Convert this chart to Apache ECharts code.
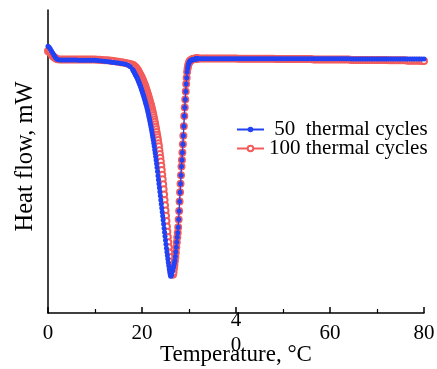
<!DOCTYPE html>
<html>
<head>
<meta charset="utf-8">
<script src="https://cdn.jsdelivr.net/npm/echarts@6/dist/echarts.min.js"></script>
<style>
html, body { margin: 0; padding: 0; background: #fff; }
#chart { width: 437px; height: 369px; }
</style>
</head>
<body>
<div id="chart"></div>
<script>
// temperature, °C (denser sampling round the melting peak)
const temps = [
  0, 0.25, 0.5, 0.75, 1, 1.25, 1.5, 1.75, 2,
  2.5, 3, 3.5, 4, 4.5, 5, 5.5, 6, 6.5, 7, 7.5, 8, 8.5, 9, 9.5, 10,
  10.5, 11, 11.5, 12, 12.5, 13, 13.5, 14, 14.5, 15, 15.5, 16, 16.5, 17, 17.5, 18,
  18.1, 18.2, 18.3, 18.4, 18.5, 18.6, 18.7, 18.8, 18.9, 19,
  19.1, 19.2, 19.3, 19.4, 19.5, 19.6, 19.7, 19.8, 19.9, 20,
  20.1, 20.2, 20.3, 20.4, 20.5, 20.6, 20.7, 20.8, 20.9, 21,
  21.1, 21.2, 21.3, 21.4, 21.5, 21.6, 21.7, 21.8, 21.9, 22,
  22.1, 22.2, 22.3, 22.4, 22.5, 22.6, 22.7, 22.8, 22.9, 23,
  23.1, 23.2, 23.3, 23.4, 23.5, 23.6, 23.7, 23.8, 23.9, 24,
  24.1, 24.2, 24.3, 24.4, 24.5, 24.6, 24.7, 24.8, 24.9, 25,
  25.1, 25.2, 25.3, 25.4, 25.5, 25.6, 25.7, 25.8, 25.9, 26,
  26.1, 26.2, 26.3, 26.4, 26.5, 26.6, 26.7, 26.8, 26.9, 27,
  27.1, 27.2, 27.3, 27.4, 27.5, 27.6, 27.7, 27.8, 27.9, 28,
  28.1, 28.2, 28.3, 28.4, 28.5, 28.6, 28.7, 28.8, 28.9, 29,
  29.1, 29.2, 29.3, 29.4, 29.5, 29.6, 29.7, 29.8, 29.9, 30,
  30.1, 30.2, 30.3, 30.4, 30.5, 30.6, 30.7, 30.8, 30.9, 31,
  31.1, 31.2, 31.3, 31.4, 31.5, 31.6, 31.7, 31.8, 31.9, 32,
  32.5, 33, 33.5, 34, 34.5, 35, 35.5, 36, 36.5, 37, 37.5, 38, 38.5, 39, 39.5, 40,
  40.5, 41, 41.5, 42, 42.5, 43, 43.5, 44, 44.5, 45, 45.5, 46, 46.5, 47, 47.5, 48,
  48.5, 49, 49.5, 50, 50.5, 51, 51.5, 52, 52.5, 53, 53.5, 54, 54.5, 55, 55.5, 56,
  56.5, 57, 57.5, 58, 58.5, 59, 59.5, 60, 60.5, 61, 61.5, 62, 62.5, 63, 63.5, 64,
  64.5, 65, 65.5, 66, 66.5, 67, 67.5, 68, 68.5, 69, 69.5, 70, 70.5, 71, 71.5, 72,
  72.5, 73, 73.5, 74, 74.5, 75, 75.5, 76, 76.5, 77, 77.5, 78, 78.5, 79, 79.5, 80
];

// heat flow, mW — 50 thermal cycles
const flow50 = [
  0.28, 0.26, 0.23, 0.19, 0.15, 0.11, 0.07, 0.04, 0.02,
  0.01, 0.01, 0.01, 0.01, 0.01, 0.01, 0.01, 0.01, 0.005, 0.005, 0.005, 0.005, 0.005, 0.005, 0.005, 0.003,
  0, -0.005, -0.01, -0.015, -0.02, -0.026, -0.033, -0.04, -0.045, -0.05, -0.058, -0.066, -0.075, -0.093, -0.125, -0.178,
  -0.195, -0.21, -0.228, -0.245, -0.262, -0.28, -0.295, -0.31, -0.33, -0.35,
  -0.372, -0.395, -0.42, -0.445, -0.467, -0.49, -0.517, -0.545, -0.572, -0.6,
  -0.63, -0.66, -0.69, -0.72, -0.75, -0.78, -0.815, -0.85, -0.882, -0.915,
  -0.955, -0.995, -1.037, -1.08, -1.125, -1.17, -1.215, -1.26, -1.31, -1.36,
  -1.415, -1.47, -1.522, -1.575, -1.637, -1.7, -1.765, -1.83, -1.9, -1.97,
  -2.045, -2.12, -2.2, -2.28, -2.36, -2.44, -2.52, -2.6, -2.68, -2.76,
  -2.84, -2.92, -3.0, -3.08, -3.16, -3.24, -3.32, -3.4, -3.48, -3.56,
  -3.64, -3.72, -3.79, -3.86, -3.93, -4.0, -4.065, -4.13, -4.19, -4.24,
  -4.27, -4.26, -4.23, -4.19, -4.16, -4.13, -4.09, -4.05, -4.01, -3.96,
  -3.88, -3.79, -3.7, -3.6, -3.5, -3.41, -3.3, -3.15, -2.98, -2.79,
  -2.61, -2.44, -2.27, -2.1, -1.97, -1.82, -1.66, -1.49, -1.3, -1.1,
  -0.93, -0.77, -0.615, -0.465, -0.34, -0.23, -0.16, -0.11, -0.07, -0.045,
  -0.025, -0.01, -0.004, 0, 0.006, 0.012, 0.015, 0.018, 0.02, 0.022,
  0.024, 0.026, 0.028, 0.03, 0.031, 0.033, 0.034, 0.035, 0.035, 0.035,
  0.035, 0.035, 0.035, 0.035, 0.035, 0.035, 0.035, 0.035, 0.035, 0.035, 0.035, 0.035, 0.035, 0.035, 0.035, 0.035,
  0.035, 0.035, 0.035, 0.035, 0.035, 0.035, 0.035, 0.035, 0.035, 0.035, 0.035, 0.035, 0.035, 0.035, 0.035, 0.035,
  0.035, 0.035, 0.035, 0.035, 0.035, 0.035, 0.035, 0.035, 0.035, 0.035, 0.035, 0.035, 0.035, 0.035, 0.035, 0.035,
  0.033, 0.033, 0.033, 0.033, 0.033, 0.033, 0.033, 0.033, 0.033, 0.033, 0.033, 0.033, 0.033, 0.033, 0.033, 0.033,
  0.03, 0.03, 0.03, 0.03, 0.03, 0.03, 0.03, 0.03, 0.03, 0.03, 0.03, 0.03, 0.03, 0.03, 0.03, 0.03,
  0.03, 0.03, 0.03, 0.03, 0.03, 0.03, 0.03, 0.03, 0.03, 0.03, 0.03, 0.03, 0.03, 0.03, 0.03, 0.03
];

// heat flow, mW — 100 thermal cycles
const flow100 = [
  0.19, 0.17, 0.15, 0.12, 0.09, 0.07, 0.05, 0.04, 0.025,
  0.02, 0.02, 0.02, 0.02, 0.02, 0.02, 0.02, 0.02, 0.02, 0.02, 0.02, 0.02, 0.02, 0.02, 0.02, 0.018,
  0.015, 0.013, 0.01, 0.007, 0.004, 0, -0.005, -0.012, -0.02, -0.027, -0.035, -0.042, -0.05, -0.06, -0.07, -0.085,
  -0.092, -0.1, -0.11, -0.12, -0.127, -0.135, -0.145, -0.155, -0.166, -0.178,
  -0.195, -0.21, -0.228, -0.245, -0.262, -0.28, -0.295, -0.31, -0.33, -0.35,
  -0.372, -0.395, -0.42, -0.445, -0.467, -0.49, -0.517, -0.545, -0.572, -0.6,
  -0.63, -0.66, -0.69, -0.72, -0.75, -0.78, -0.815, -0.85, -0.882, -0.915,
  -0.955, -0.995, -1.037, -1.08, -1.125, -1.17, -1.215, -1.26, -1.31, -1.36,
  -1.415, -1.47, -1.522, -1.575, -1.637, -1.7, -1.775, -1.85, -1.925, -2.0,
  -2.085, -2.17, -2.26, -2.35, -2.45, -2.55, -2.655, -2.76, -2.865, -2.97,
  -3.075, -3.18, -3.285, -3.39, -3.495, -3.6, -3.7, -3.8, -3.89, -3.98,
  -4.06, -4.13, -4.18, -4.22, -4.24, -4.24, -4.2, -4.12, -4.05, -3.97,
  -3.89, -3.8, -3.7, -3.6, -3.5, -3.41, -3.3, -3.15, -2.98, -2.79,
  -2.61, -2.44, -2.27, -2.1, -1.97, -1.82, -1.66, -1.49, -1.3, -1.1,
  -0.93, -0.77, -0.615, -0.465, -0.34, -0.23, -0.16, -0.11, -0.07, -0.045,
  -0.025, -0.01, -0.002, 0.005, 0.012, 0.018, 0.022, 0.026, 0.03, 0.032,
  0.034, 0.036, 0.037, 0.038, 0.038, 0.038, 0.038, 0.038, 0.038, 0.038,
  0.038, 0.038, 0.038, 0.038, 0.038, 0.038, 0.038, 0.038, 0.038, 0.038, 0.038, 0.038, 0.038, 0.038, 0.038, 0.038,
  0.036, 0.036, 0.036, 0.036, 0.036, 0.036, 0.036, 0.036, 0.036, 0.036, 0.036, 0.036, 0.036, 0.036, 0.036, 0.036,
  0.032, 0.032, 0.032, 0.032, 0.032, 0.032, 0.032, 0.032, 0.032, 0.032, 0.032, 0.032, 0.032, 0.032, 0.032, 0.032,
  0.022, 0.022, 0.022, 0.022, 0.022, 0.022, 0.022, 0.022, 0.022, 0.022, 0.022, 0.022, 0.022, 0.022, 0.022, 0.022,
  0.01, 0.01, 0.01, 0.01, 0.01, 0.01, 0.01, 0.01, 0.01, 0.01, 0.01, 0.01, 0.01, 0.01, 0.01, 0.01,
  0.005, 0.005, 0.005, 0.005, 0.005, 0.005, 0.005, 0.005, -0.005, -0.005, -0.005, -0.005, -0.005, -0.005, -0.01, -0.01
];

const seriesNames = [' 50  thermal cycles', '100 thermal cycles'];
const xLabels = [0, 20, 40, 60, 80];

const FONT = 'Liberation Serif';
const BLUE = '#2142f5';
const RED = '#f45c5c';

const chart = echarts.init(document.getElementById('chart'));

const option = {
  animation: false,
  backgroundColor: '#fff',
  grid: { left: 48, right: 13, top: 10, bottom: 56, outerBoundsMode: 'none' },
  legend: {
    orient: 'vertical',
    left: 231,
    top: 114,
    itemWidth: 27,
    itemHeight: 7,
    itemGap: -2,
    data: seriesNames,
    textStyle: { fontFamily: FONT, fontSize: 21, color: '#000' }
  },
  xAxis: {
    type: 'value',
    min: 0,
    max: 80,
    interval: 20,
    name: 'Temperature, °C',
    nameLocation: 'middle',
    nameGap: 42,
    nameMoveOverlap: false,
    nameTextStyle: { fontFamily: FONT, fontSize: 23, color: '#000', verticalAlign: 'middle' },
    axisLine: { onZero: false, lineStyle: { color: '#000', width: 1.5 } },
    axisTick: { inside: true, length: 6, lineStyle: { color: '#000', width: 1.5 } },
    minorTick: { show: true, splitNumber: 2, length: 4, lineStyle: { color: '#000', width: 1.2 } },
    splitLine: { show: false },
    axisLabel: {
      fontFamily: FONT,
      fontSize: 21,
      color: '#000',
      margin: 20,
      lineHeight: 25,
      verticalAlign: 'middle',
      // the 40 label is split over two lines in the original figure
      formatter: v => xLabels.includes(v) ? (v === 40 ? '4\n0' : String(v)) : ''
    }
  },
  yAxis: {
    type: 'value',
    min: -5,
    max: 1,
    name: 'Heat flow, mW',
    nameLocation: 'middle',
    nameGap: 22,
    nameMoveOverlap: false,
    nameTextStyle: { fontFamily: FONT, fontSize: 24.5, color: '#000', verticalAlign: 'middle', padding: [0, 0, 0, 10] },
    axisLine: { show: true, onZero: false, lineStyle: { color: '#000', width: 1.5 } },
    axisTick: { show: false },
    axisLabel: { show: false },
    splitLine: { show: false }
  },
  series: [
    {
      name: seriesNames[1],
      type: 'line',
      data: temps.map((t, i) => [t, flow100[i]]),
      symbol: 'emptyCircle',
      symbolSize: 6,
      showAllSymbol: true,
      itemStyle: { color: RED, borderWidth: 1 },
      lineStyle: { color: RED, width: 1 },
      z: 2
    },
    {
      name: seriesNames[0],
      type: 'line',
      data: temps.map((t, i) => [t, flow50[i]]),
      symbol: 'circle',
      symbolSize: 5,
      showAllSymbol: true,
      itemStyle: { color: BLUE },
      lineStyle: { color: BLUE, width: 1.2 },
      z: 3
    }
  ]
};

chart.setOption(option);
</script>
</body>
</html>
